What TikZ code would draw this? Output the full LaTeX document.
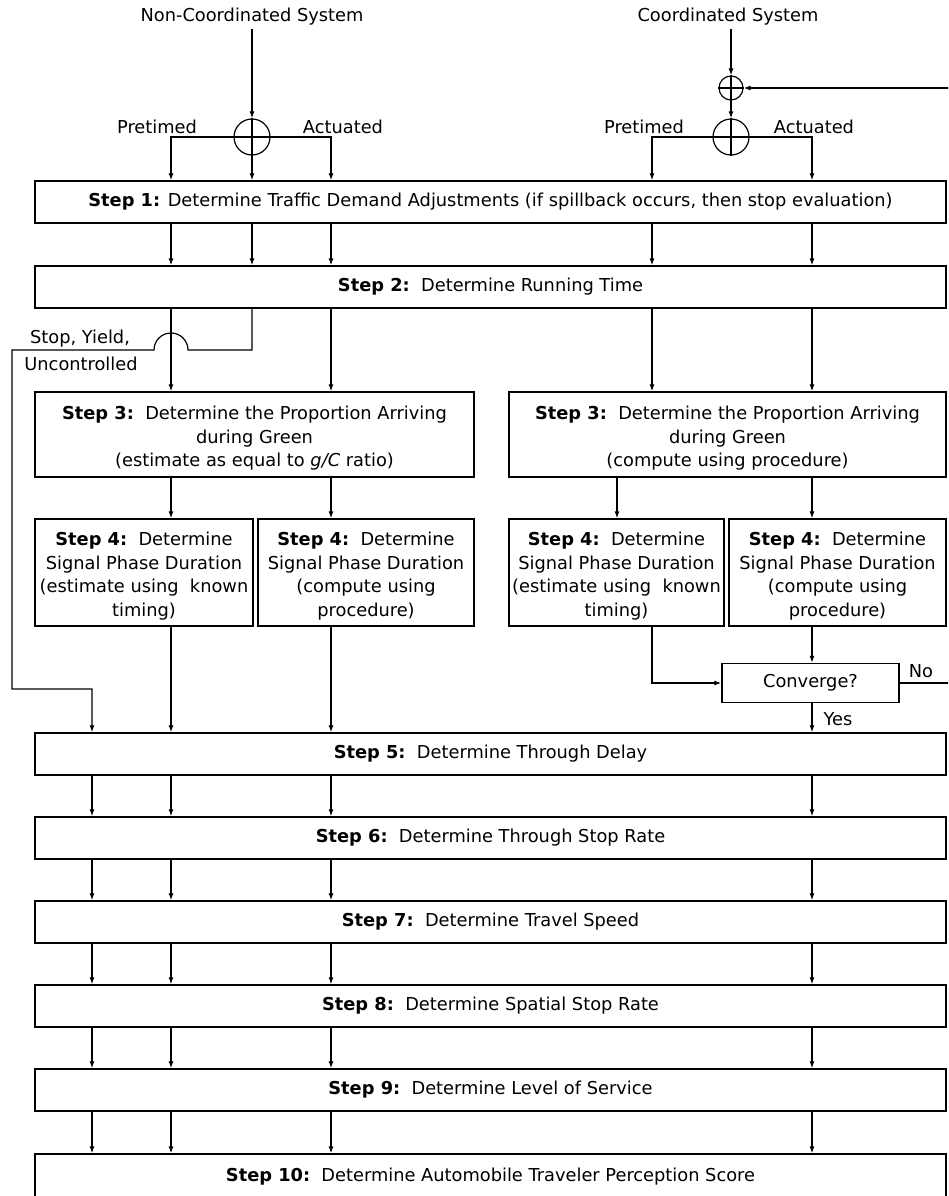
\documentclass[tikz,border=0pt]{standalone}
\usepackage{fontspec}
\setmainfont{DejaVu Sans}
\usetikzlibrary{arrows.meta}
\newcommand\flowtxt{\fontsize{17.8}{23.5}\selectfont}
% taller first line, so multi-line box texts sit a little lower
\newcommand\firststrut{\rule{0pt}{21pt}}
\tikzset{
  line/.style={line width=1.2pt},
  arr/.style={line, -{Latex[length=7pt,width=5pt]}},
  stepbox/.style={draw, line width=1.3pt, inner sep=0pt, align=center, font=\flowtxt},
  wide/.style={stepbox, minimum width=911pt, minimum height=42pt},
  half/.style={stepbox, minimum height=85pt},
  quarter/.style={stepbox, minimum height=107pt},
  junction/.style={circle, draw, line width=1.2pt, inner sep=0pt},
  lbl/.style={inner sep=3pt, font=\flowtxt, align=center}
}
\begin{document}
\begin{tikzpicture}[x=1pt,y=-1pt]
\useasboundingbox (0,0) rectangle (948,1196);
\fill[white] (0,0) rectangle (948,1196);
\clip (0,0) rectangle (948,1196);

% column positions of the vertical connectors
\coordinate (cA) at (92,0);
\coordinate (cB) at (171,0);
\coordinate (cC) at (252,0);
\coordinate (cD) at (331,0);
\coordinate (cG) at (617,0);
\coordinate (cE) at (652,0);
\coordinate (cF) at (812,0);
\coordinate (fbX) at (962,0);

% system inputs and junctions
\node[lbl] (nc) at (252,17) {Non-Coordinated System};
\node[lbl] (cs) at (728,17) {Coordinated System};
\node[junction, minimum size=36pt] (jl) at (252,137) {};
\node[junction, minimum size=24pt] (js) at (731,88) {};
\node[junction, minimum size=36pt] (jr) at (731,137) {};
\node[lbl, anchor=base] (pl) at (157,133) {Pretimed};
\node[lbl, anchor=base] (al) at (343,133) {Actuated};
\node[lbl, anchor=base] (pr) at (644,133) {Pretimed};
\node[lbl, anchor=base] (ar) at (814,133) {Actuated};

% step boxes
\node[wide] (s1) at (490.5,202) {\textbf{Step 1:} Determine Traffic Demand Adjustments (if spillback occurs, then stop evaluation)};
\node[wide] (s2) at (490.5,287) {\textbf{Step 2:}\ \ Determine Running Time};
\node[half, minimum width=439pt] (s3a) at (254.5,434.5) {\firststrut\textbf{Step 3:}\ \ Determine the Proportion Arriving\\during Green\\(estimate as equal to \textit{g/C} ratio)};
\node[half, minimum width=437pt] (s3b) at (727.5,434.5) {\firststrut\textbf{Step 3:}\ \ Determine the Proportion Arriving\\during Green\\(compute using procedure)};
\node[quarter, minimum width=218pt] (s4a) at (144,572.5) {\firststrut\textbf{Step 4:}\ \ Determine\\Signal Phase Duration\\(estimate using\ \ known\\timing)};
\node[quarter, minimum width=216pt] (s4b) at (366,572.5) {\firststrut\textbf{Step 4:}\ \ Determine\\Signal Phase Duration\\(compute using\\procedure)};
\node[quarter, minimum width=215pt] (s4c) at (616.5,572.5) {\firststrut\textbf{Step 4:}\ \ Determine\\Signal Phase Duration\\(estimate using\ \ known\\timing)};
\node[quarter, minimum width=217pt] (s4d) at (837.5,572.5) {\firststrut\textbf{Step 4:}\ \ Determine\\Signal Phase Duration\\(compute using\\procedure)};
\node[stepbox, minimum width=177pt, minimum height=39pt] (conv) at (810.5,683) {Converge?};
\node[wide] (s5) at (490.5,754) {\textbf{Step 5:}\ \ Determine Through Delay};
\node[wide] (s6) at (490.5,838) {\textbf{Step 6:}\ \ Determine Through Stop Rate};
\node[wide] (s7) at (490.5,922) {\textbf{Step 7:}\ \ Determine Travel Speed};
\node[wide] (s8) at (490.5,1006) {\textbf{Step 8:}\ \ Determine Spatial Stop Rate};
\node[wide] (s9) at (490.5,1090) {\textbf{Step 9:}\ \ Determine Level of Service};
\node[wide, minimum height=46pt] (s10) at (490.5,1177) {\textbf{Step 10:}\ \ Determine Automobile Traveler Perception Score};

% non-coordinated branch
\draw[arr] (nc.south) -- (jl.north);
\draw[arr] (jl.north) -- (jl.north |- s1.north);
\draw[line] (jl.west) -- (jl.east);
\draw[arr] (jl.west) -| (cB |- s1.north);
\draw[arr] (jl.east) -| (cD |- s1.north);

% coordinated branch
\draw[arr] (cs.south -| js) -- (js.north);
\draw[line] (js.north) -- (js.south);
\draw[line] (js.west) -- (js.east);
\draw[arr] (js.south) -- (jr.north);
\draw[line] (jr.north) -- (jr.south);
\draw[line] (jr.west) -- (jr.east);
\draw[arr] (jr.west) -| (cE |- s1.north);
\draw[arr] (jr.east) -| (cF |- s1.north);

% step 1 to step 2
\foreach \c in {cB,cC,cD,cE,cF}
  \draw[arr] (s1.south -| \c) -- (s2.north -| \c);

% step 2 to step 3
\draw[arr] (s2.south -| cB) -- (s3a.north -| cB);
\draw[arr] (s2.south -| cD) -- (s3a.north -| cD);
\draw[arr] (s2.south -| cE) -- (s3b.north -| cE);
\draw[arr] (s2.south -| cF) -- (s3b.north -| cF);

% unsignalized bypass with a hop over the step 3 feed
\coordinate (hop) at (171,350);
\coordinate (byT) at (12,350);
\coordinate (byB) at (12,689);
\draw[arr] (s2.south -| cC) |- ([xshift=17pt]hop)
  arc[start angle=0, end angle=180, radius=17pt] -- (byT) -- (byB) -| (s5.north -| cA);
\node[lbl] (syl) at (80,339) {Stop, Yield,};
\node[lbl] (unl) at (81,364) {Uncontrolled};

% step 3 to step 4
\draw[arr] (s3a.south -| cB) -- (s4a.north -| cB);
\draw[arr] (s3a.south -| cD) -- (s4b.north -| cD);
\draw[arr] (s3b.south -| cG) -- (s4c.north -| cG);
\draw[arr] (s3b.south -| cF) -- (s4d.north -| cF);

% step 4 to step 5 and the convergence check
\draw[arr] (s4a.south -| cB) -- (s5.north -| cB);
\draw[arr] (s4b.south -| cD) -- (s5.north -| cD);
\draw[arr] (s4c.south -| cE) |- (conv.west);
\draw[arr] (s4d.south -| cF) -- (conv.north -| cF);
\draw[arr] (conv.south -| cF) -- (s5.north -| cF);
\draw[arr] (conv.east) -- (conv.east -| fbX) |- (js.east);
\node[lbl] (nol) at (921,671) {No};
\node[lbl] (yesl) at (838,719) {Yes};

% steps 5 to 10
\foreach \a/\b in {s5/s6,s6/s7,s7/s8,s8/s9,s9/s10}
  \foreach \c in {cA,cB,cD,cF}
    \draw[arr] (\a.south -| \c) -- (\b.north -| \c);
\end{tikzpicture}
\end{document}
